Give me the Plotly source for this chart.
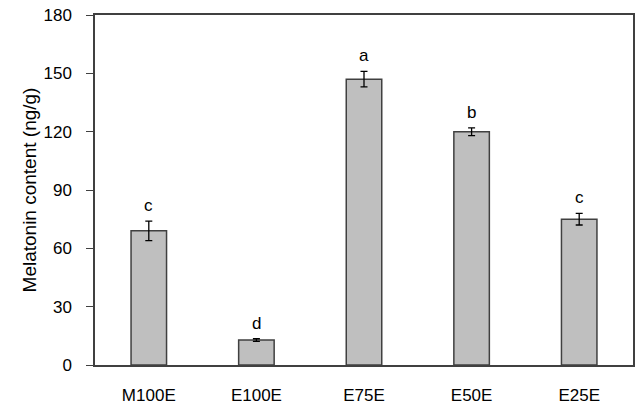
import plotly.graph_objects as go

categories = ["M100E", "E100E", "E75E", "E50E", "E25E"]
values = [69, 12.8, 147, 120, 75]
errors = [5, 0.7, 4, 2, 3]
letters = ["c", "d", "a", "b", "c"]

FONT = "Liberation Sans, Arial"

fig = go.Figure()
fig.add_trace(go.Bar(
    x=categories, y=values,
    marker=dict(color="#bfbfbf", line=dict(color="#404040", width=1.5)),
    width=0.33,
    error_y=dict(type="data", array=errors, color="#000000", thickness=1.3, width=3.5),
))
for c, v, e, t in zip(categories, values, errors, letters):
    fig.add_annotation(x=c, y=v + e + 8, text=t, showarrow=False,
                       font=dict(family=FONT, size=17, color="#000"),
                       yanchor="middle")

fig.update_layout(
    width=641, height=411,
    margin=dict(l=95, r=6, t=6, b=40),
    plot_bgcolor="white", paper_bgcolor="white",
    showlegend=False,
    font=dict(family=FONT, size=17, color="#000"),
    xaxis=dict(showline=True, linecolor="#404040", linewidth=1.5, mirror=True,
               ticks="", tickfont=dict(size=17), ticklabelstandoff=14),
    yaxis=dict(range=[0, 180], tickvals=[0, 30, 60, 90, 120, 150, 180],
               showline=True, linecolor="#404040", linewidth=1.5, mirror=True,
               ticks="outside", ticklen=7, tickcolor="#404040", showgrid=False,
               zeroline=False, tickfont=dict(size=17), ticklabelstandoff=11,
               ticklabeloverflow="allow",
               title=dict(text="Melatonin content (ng/g)", font=dict(size=19), standoff=2)),
)
fig.write_html("out.html")
